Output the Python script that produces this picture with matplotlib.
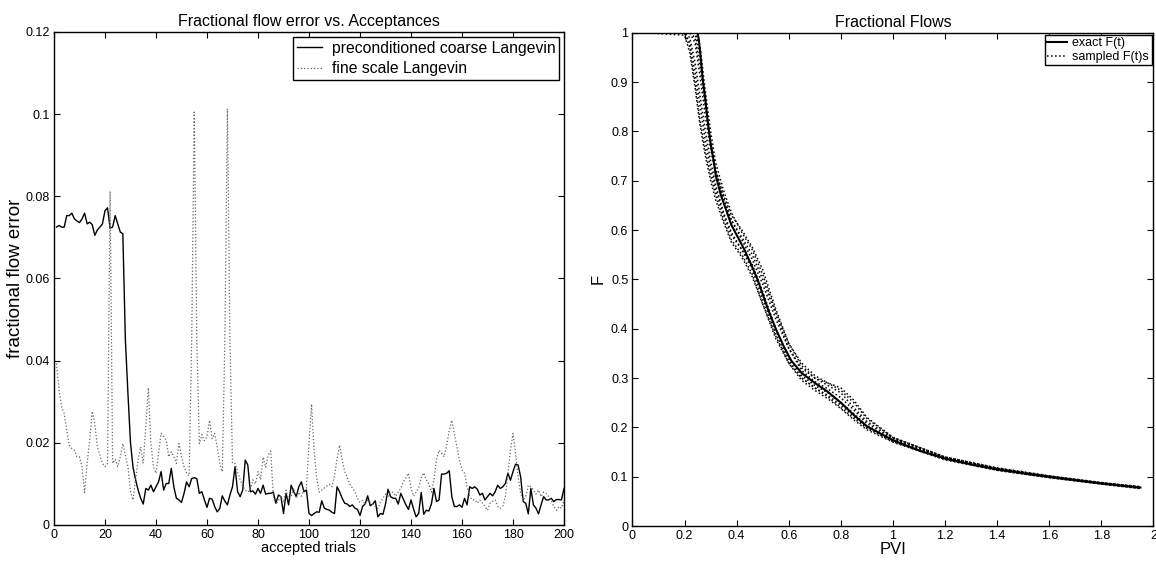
import matplotlib.pyplot as plt
import numpy as np
from matplotlib.ticker import FuncFormatter, MultipleLocator

plt.rcParams['font.family'] = ['Liberation Sans', 'DejaVu Sans']

# left panel: fractional flow error per accepted trial
trials = list(range(1, 201))
coarse = [
    0.0725, 0.0729, 0.0725, 0.0725, 0.0753, 0.0753, 0.0759, 0.0745, 0.0740, 0.0736,
    0.0745, 0.0759, 0.0733, 0.0737, 0.0731, 0.0705, 0.0718, 0.0725, 0.0733, 0.0765,
    0.0772, 0.0723, 0.0725, 0.0753, 0.0733, 0.0713, 0.0709, 0.0450, 0.0320, 0.0200,
    0.0140, 0.0110, 0.0085, 0.0065, 0.0051, 0.0089, 0.0085, 0.0097, 0.0081, 0.0093,
    0.0105, 0.0130, 0.0085, 0.0101, 0.0101, 0.0138, 0.0093, 0.0065, 0.0061, 0.0055,
    0.0077, 0.0105, 0.0093, 0.0113, 0.0115, 0.0113, 0.0077, 0.0081, 0.0061, 0.0043,
    0.0065, 0.0063, 0.0045, 0.0032, 0.0040, 0.0071, 0.0058, 0.0049, 0.0073, 0.0093,
    0.0142, 0.0081, 0.0069, 0.0085, 0.0158, 0.0146, 0.0081, 0.0083, 0.0075, 0.0089,
    0.0077, 0.0097, 0.0075, 0.0077, 0.0077, 0.0080, 0.0053, 0.0073, 0.0069, 0.0028,
    0.0077, 0.0049, 0.0097, 0.0081, 0.0069, 0.0093, 0.0105, 0.0081, 0.0085, 0.0028,
    0.0023, 0.0028, 0.0032, 0.0031, 0.0059, 0.0041, 0.0038, 0.0036, 0.0031, 0.0028,
    0.0093, 0.0081, 0.0065, 0.0053, 0.0051, 0.0045, 0.0049, 0.0041, 0.0038, 0.0023,
    0.0045, 0.0051, 0.0071, 0.0047, 0.0051, 0.0059, 0.0020, 0.0028, 0.0026, 0.0051,
    0.0087, 0.0069, 0.0065, 0.0065, 0.0051, 0.0077, 0.0063, 0.0049, 0.0038, 0.0061,
    0.0039, 0.0020, 0.0028, 0.0079, 0.0026, 0.0036, 0.0034, 0.0051, 0.0089, 0.0057,
    0.0061, 0.0124, 0.0124, 0.0126, 0.0132, 0.0069, 0.0045, 0.0045, 0.0049, 0.0043,
    0.0065, 0.0049, 0.0093, 0.0089, 0.0093, 0.0087, 0.0073, 0.0077, 0.0061, 0.0069,
    0.0077, 0.0071, 0.0081, 0.0097, 0.0089, 0.0093, 0.0101, 0.0126, 0.0109, 0.0130,
    0.0148, 0.0146, 0.0117, 0.0057, 0.0053, 0.0027, 0.0089, 0.0049, 0.0041, 0.0027,
    0.0049, 0.0069, 0.0061, 0.0061, 0.0065, 0.0057, 0.0062, 0.0062, 0.0061, 0.0089,
]
fine = [
    0.0393, 0.0328, 0.0288, 0.0271, 0.0231, 0.0194, 0.0186, 0.0182, 0.0166, 0.0166,
    0.0142, 0.0079, 0.0150, 0.0207, 0.0277, 0.0247, 0.0190, 0.0170, 0.0150, 0.0142,
    0.0150, 0.0812, 0.0150, 0.0160, 0.0142, 0.0166, 0.0198, 0.0170, 0.0142, 0.0080,
    0.0061, 0.0110, 0.0160, 0.0190, 0.0150, 0.0239, 0.0334, 0.0200, 0.0142, 0.0126,
    0.0174, 0.0223, 0.0215, 0.0207, 0.0166, 0.0178, 0.0166, 0.0150, 0.0198, 0.0166,
    0.0142, 0.0126, 0.0120, 0.0450, 0.1005, 0.0450, 0.0198, 0.0220, 0.0205, 0.0215,
    0.0255, 0.0210, 0.0223, 0.0190, 0.0150, 0.0130, 0.0450, 0.1013, 0.0450, 0.0150,
    0.0150, 0.0130, 0.0110, 0.0095, 0.0085, 0.0080, 0.0085, 0.0110, 0.0100, 0.0130,
    0.0110, 0.0165, 0.0140, 0.0170, 0.0180, 0.0070, 0.0050, 0.0060, 0.0070, 0.0055,
    0.0085, 0.0060, 0.0070, 0.0090, 0.0065, 0.0080, 0.0070, 0.0085, 0.0090, 0.0200,
    0.0294, 0.0180, 0.0115, 0.0080, 0.0085, 0.0090, 0.0095, 0.0099, 0.0093, 0.0120,
    0.0160, 0.0194, 0.0160, 0.0130, 0.0115, 0.0100, 0.0090, 0.0080, 0.0065, 0.0055,
    0.0060, 0.0050, 0.0060, 0.0055, 0.0050, 0.0045, 0.0040, 0.0055, 0.0065, 0.0075,
    0.0070, 0.0080, 0.0080, 0.0070, 0.0080, 0.0090, 0.0105, 0.0115, 0.0126, 0.0090,
    0.0070, 0.0080, 0.0090, 0.0115, 0.0127, 0.0110, 0.0100, 0.0080, 0.0110, 0.0160,
    0.0182, 0.0174, 0.0166, 0.0194, 0.0230, 0.0255, 0.0223, 0.0190, 0.0158, 0.0134,
    0.0126, 0.0093, 0.0069, 0.0061, 0.0061, 0.0053, 0.0061, 0.0053, 0.0045, 0.0036,
    0.0053, 0.0058, 0.0061, 0.0045, 0.0041, 0.0045, 0.0069, 0.0126, 0.0182, 0.0223,
    0.0174, 0.0117, 0.0077, 0.0061, 0.0069, 0.0097, 0.0093, 0.0085, 0.0075, 0.0085,
    0.0069, 0.0080, 0.0077, 0.0069, 0.0060, 0.0045, 0.0036, 0.0045, 0.0041, 0.0060,
]

# right panel: fractional flow curves
pvi_exact = [0.05, 0.25, 0.255, 0.26, 0.27, 0.28, 0.29, 0.30, 0.31, 0.32, 0.34, 0.36,
             0.38, 0.40, 0.43, 0.46, 0.48, 0.50, 0.52, 0.55, 0.58, 0.61, 0.65, 0.70,
             0.75, 0.80, 0.85, 0.90, 1.00, 1.10, 1.20, 1.30, 1.40, 1.50, 1.60, 1.70,
             1.80, 1.95]
f_exact = [1.0, 1.0, 0.985, 0.96, 0.905, 0.865, 0.815, 0.775, 0.745, 0.71, 0.67, 0.64,
           0.61, 0.59, 0.56, 0.525, 0.50, 0.47, 0.44, 0.40, 0.365, 0.335, 0.31, 0.29,
           0.272, 0.25, 0.225, 0.202, 0.174, 0.153, 0.137, 0.125, 0.115, 0.107, 0.100,
           0.093, 0.0865, 0.078]

pvi_samp = [0.05, 0.20, 0.22, 0.24, 0.26, 0.28, 0.30, 0.32, 0.35, 0.38, 0.42, 0.46,
            0.50, 0.55, 0.60, 0.65, 0.70, 0.75, 0.80, 0.85, 0.90, 1.00, 1.20, 1.40,
            1.60, 1.80, 1.95]
samp1 = [1, 1, 0.97, 0.90, 0.82, 0.76, 0.71, 0.67, 0.62, 0.58, 0.55, 0.51, 0.45, 0.38,
         0.33, 0.30, 0.28, 0.265, 0.245, 0.222, 0.200, 0.172, 0.136, 0.114, 0.099, 0.086, 0.077]
samp2 = [1, 1, 1, 0.99, 0.93, 0.85, 0.78, 0.72, 0.67, 0.63, 0.60, 0.565, 0.52, 0.44,
         0.37, 0.325, 0.30, 0.285, 0.27, 0.24, 0.212, 0.178, 0.139, 0.117, 0.101, 0.087, 0.079]
samp3 = [1, 1, 0.99, 0.94, 0.87, 0.80, 0.74, 0.69, 0.635, 0.595, 0.56, 0.52, 0.46, 0.39,
         0.335, 0.30, 0.28, 0.262, 0.24, 0.218, 0.198, 0.171, 0.135, 0.113, 0.098, 0.085, 0.076]
samp4 = [1, 1, 1, 1, 0.95, 0.86, 0.78, 0.72, 0.665, 0.62, 0.58, 0.54, 0.49, 0.42,
         0.36, 0.32, 0.30, 0.29, 0.28, 0.255, 0.22, 0.18, 0.140, 0.117, 0.101, 0.088, 0.079]
samp5 = [1, 0.995, 0.96, 0.89, 0.81, 0.75, 0.70, 0.66, 0.615, 0.575, 0.545, 0.505, 0.45,
         0.385, 0.33, 0.295, 0.275, 0.258, 0.238, 0.215, 0.195, 0.170, 0.134, 0.113, 0.098,
         0.085, 0.076]
samp6 = [1, 1, 1, 0.98, 0.91, 0.83, 0.765, 0.715, 0.66, 0.62, 0.585, 0.55, 0.50, 0.43,
         0.36, 0.315, 0.293, 0.278, 0.26, 0.235, 0.208, 0.176, 0.138, 0.116, 0.100, 0.087, 0.078]
samp7 = [1, 1, 0.98, 0.92, 0.85, 0.78, 0.725, 0.68, 0.63, 0.59, 0.56, 0.53, 0.475, 0.40,
         0.34, 0.305, 0.285, 0.27, 0.25, 0.228, 0.203, 0.174, 0.137, 0.115, 0.099, 0.086, 0.077]
samp8 = [1, 1, 1, 1, 0.97, 0.88, 0.80, 0.735, 0.68, 0.635, 0.595, 0.56, 0.51, 0.435,
         0.37, 0.33, 0.305, 0.29, 0.275, 0.25, 0.218, 0.179, 0.140, 0.118, 0.102, 0.088, 0.080]
samples = [samp1, samp2, samp3, samp4, samp5, samp6, samp7, samp8]

fmt = FuncFormatter(lambda v, p: '%g' % round(v, 6))


def matlab_axes(ax):
    ax.tick_params(direction='in', top=True, right=True, labelsize=9, length=4, pad=3)
    for s in ax.spines.values():
        s.set_linewidth(1.0)


fig = plt.figure(figsize=(11.56, 5.65), dpi=100)

ax1 = fig.add_axes([0.0467, 0.0708, 0.4412, 0.8726])
ax1.plot(trials, coarse, color='black', lw=1.0, label='preconditioned coarse Langevin')
ax1.plot(trials, fine, color='0.4', lw=0.9, linestyle=':', label='fine scale Langevin')
ax1.set_xlim(0, 200)
ax1.set_ylim(0, 0.12)
ax1.xaxis.set_major_locator(MultipleLocator(20))
ax1.yaxis.set_major_locator(MultipleLocator(0.02))
ax1.yaxis.set_major_formatter(fmt)
matlab_axes(ax1)
ax1.set_title('Fractional flow error vs. Acceptances', fontsize=11.5, pad=4)
ax1.set_xlabel('accepted trials', fontsize=10.5, labelpad=0)
ax1.set_ylabel('fractional flow error', fontsize=13.5, labelpad=1)
leg1 = ax1.legend(loc='upper right', fontsize=11.3, fancybox=False, edgecolor='black',
                  framealpha=1, borderaxespad=0.3, handlelength=1.6, borderpad=0.25,
                  labelspacing=0.35, handletextpad=0.6)
leg1.get_frame().set_linewidth(1.0)

ax2 = fig.add_axes([0.5471, 0.069, 0.4507, 0.8731])
for i, s in enumerate(samples):
    ax2.plot(pvi_samp, s, color='black', lw=1.1, linestyle=':',
             label='sampled F(t)s' if i == 0 else None)
ax2.plot(pvi_exact, f_exact, color='black', lw=1.5, label='exact F(t)')
ax2.set_xlim(0, 2)
ax2.set_ylim(0, 1)
ax2.xaxis.set_major_locator(MultipleLocator(0.2))
ax2.yaxis.set_major_locator(MultipleLocator(0.1))
ax2.xaxis.set_major_formatter(fmt)
ax2.yaxis.set_major_formatter(fmt)
matlab_axes(ax2)
ax2.set_title('Fractional Flows', fontsize=11.5, pad=4)
ax2.set_xlabel('PVI', fontsize=12, labelpad=0)
ax2.set_ylabel('F', fontsize=12, labelpad=4)
handles, labels = ax2.get_legend_handles_labels()
leg2 = ax2.legend(handles[::-1], labels[::-1], loc='upper right', fontsize=9,
                  fancybox=False, edgecolor='black', framealpha=1, borderaxespad=0.15,
                  handlelength=1.6, borderpad=0.2, labelspacing=0.15, handletextpad=0.4)
leg2.get_frame().set_linewidth(1.0)

fig.savefig('out.png', dpi=100)
